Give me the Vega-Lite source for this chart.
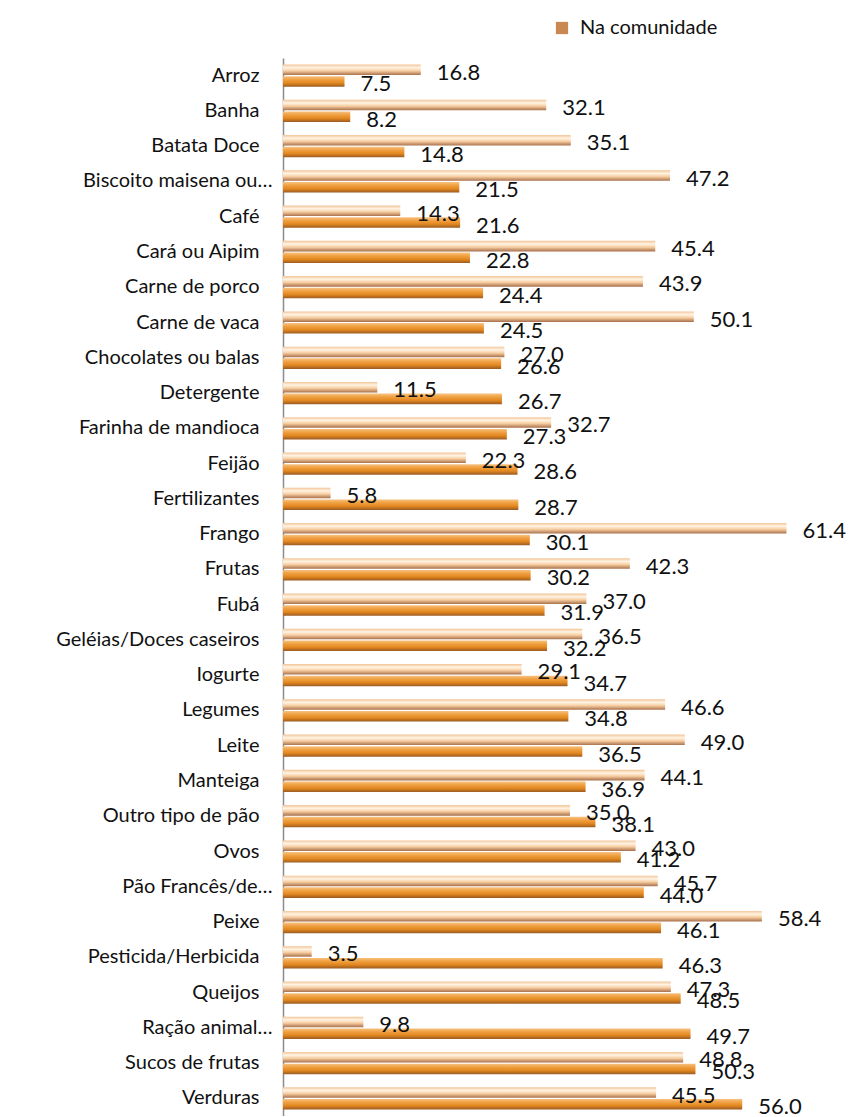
{
  "$schema": "https://vega.github.io/schema/vega-lite/v6.json",
  "autosize": {"type": "none"},
  "padding": {"left": 283, "top": 58, "right": 34, "bottom": 0},
  "width": 533,
  "height": 1058,
  "background": "white",
  "config": {"view": {"stroke": null}, "font": "Lato"},
  "data": {"values": [
    {"cat": "Arroz", "serie": "Fora da comunidade", "v": 16.8}, {"cat": "Arroz", "serie": "Na comunidade", "v": 7.5},
    {"cat": "Banha", "serie": "Fora da comunidade", "v": 32.1}, {"cat": "Banha", "serie": "Na comunidade", "v": 8.2},
    {"cat": "Batata Doce", "serie": "Fora da comunidade", "v": 35.1}, {"cat": "Batata Doce", "serie": "Na comunidade", "v": 14.8},
    {"cat": "Biscoito maisena ou…", "serie": "Fora da comunidade", "v": 47.2}, {"cat": "Biscoito maisena ou…", "serie": "Na comunidade", "v": 21.5},
    {"cat": "Café", "serie": "Fora da comunidade", "v": 14.3}, {"cat": "Café", "serie": "Na comunidade", "v": 21.6},
    {"cat": "Cará ou Aipim", "serie": "Fora da comunidade", "v": 45.4}, {"cat": "Cará ou Aipim", "serie": "Na comunidade", "v": 22.8},
    {"cat": "Carne de porco", "serie": "Fora da comunidade", "v": 43.9}, {"cat": "Carne de porco", "serie": "Na comunidade", "v": 24.4},
    {"cat": "Carne de vaca", "serie": "Fora da comunidade", "v": 50.1}, {"cat": "Carne de vaca", "serie": "Na comunidade", "v": 24.5},
    {"cat": "Chocolates ou balas", "serie": "Fora da comunidade", "v": 27.0}, {"cat": "Chocolates ou balas", "serie": "Na comunidade", "v": 26.6},
    {"cat": "Detergente", "serie": "Fora da comunidade", "v": 11.5}, {"cat": "Detergente", "serie": "Na comunidade", "v": 26.7},
    {"cat": "Farinha de mandioca", "serie": "Fora da comunidade", "v": 32.7}, {"cat": "Farinha de mandioca", "serie": "Na comunidade", "v": 27.3},
    {"cat": "Feijão", "serie": "Fora da comunidade", "v": 22.3}, {"cat": "Feijão", "serie": "Na comunidade", "v": 28.6},
    {"cat": "Fertilizantes", "serie": "Fora da comunidade", "v": 5.8}, {"cat": "Fertilizantes", "serie": "Na comunidade", "v": 28.7},
    {"cat": "Frango", "serie": "Fora da comunidade", "v": 61.4}, {"cat": "Frango", "serie": "Na comunidade", "v": 30.1},
    {"cat": "Frutas", "serie": "Fora da comunidade", "v": 42.3}, {"cat": "Frutas", "serie": "Na comunidade", "v": 30.2},
    {"cat": "Fubá", "serie": "Fora da comunidade", "v": 37.0}, {"cat": "Fubá", "serie": "Na comunidade", "v": 31.9},
    {"cat": "Geléias/Doces caseiros", "serie": "Fora da comunidade", "v": 36.5}, {"cat": "Geléias/Doces caseiros", "serie": "Na comunidade", "v": 32.2},
    {"cat": "Iogurte", "serie": "Fora da comunidade", "v": 29.1}, {"cat": "Iogurte", "serie": "Na comunidade", "v": 34.7},
    {"cat": "Legumes", "serie": "Fora da comunidade", "v": 46.6}, {"cat": "Legumes", "serie": "Na comunidade", "v": 34.8},
    {"cat": "Leite", "serie": "Fora da comunidade", "v": 49.0}, {"cat": "Leite", "serie": "Na comunidade", "v": 36.5},
    {"cat": "Manteiga", "serie": "Fora da comunidade", "v": 44.1}, {"cat": "Manteiga", "serie": "Na comunidade", "v": 36.9},
    {"cat": "Outro tipo de pão", "serie": "Fora da comunidade", "v": 35.0}, {"cat": "Outro tipo de pão", "serie": "Na comunidade", "v": 38.1},
    {"cat": "Ovos", "serie": "Fora da comunidade", "v": 43.0}, {"cat": "Ovos", "serie": "Na comunidade", "v": 41.2},
    {"cat": "Pão Francês/de…", "serie": "Fora da comunidade", "v": 45.7}, {"cat": "Pão Francês/de…", "serie": "Na comunidade", "v": 44.0},
    {"cat": "Peixe", "serie": "Fora da comunidade", "v": 58.4}, {"cat": "Peixe", "serie": "Na comunidade", "v": 46.1},
    {"cat": "Pesticida/Herbicida", "serie": "Fora da comunidade", "v": 3.5}, {"cat": "Pesticida/Herbicida", "serie": "Na comunidade", "v": 46.3},
    {"cat": "Queijos", "serie": "Fora da comunidade", "v": 47.3}, {"cat": "Queijos", "serie": "Na comunidade", "v": 48.5},
    {"cat": "Ração animal…", "serie": "Fora da comunidade", "v": 9.8}, {"cat": "Ração animal…", "serie": "Na comunidade", "v": 49.7},
    {"cat": "Sucos de frutas", "serie": "Fora da comunidade", "v": 48.8}, {"cat": "Sucos de frutas", "serie": "Na comunidade", "v": 50.3},
    {"cat": "Verduras", "serie": "Fora da comunidade", "v": 45.5}, {"cat": "Verduras", "serie": "Na comunidade", "v": 56.0}
  ]},
  "encoding": {
    "y": {"field": "cat", "type": "nominal", "sort": null,
      "scale": {"paddingInner": 0.37, "paddingOuter": 0.185},
      "axis": {"title": null, "ticks": false, "labelFontSize": 20, "labelFont": "Lato", "labelColor": "#111", "labelLimit": 400,
        "labelPadding": {"condition": {"test": "indexof(datum.label, '…') >= 0", "value": 11}, "value": 24},
        "domainColor": "#8c8c8c", "domainWidth": 1.5}},
    "yOffset": {"field": "serie", "type": "nominal", "scale": {"domain": ["Fora da comunidade", "Na comunidade"], "paddingInner": 0.1}},
    "x": {"field": "v", "type": "quantitative", "scale": {"domain": [0, 65], "nice": false}, "axis": null}
  },
  "layer": [
    {
      "transform": [{"filter": "datum.serie == 'Fora da comunidade'"}],
      "mark": {"type": "bar", "color": {"gradient": "linear", "x1": 0, "y1": 0, "x2": 0, "y2": 1,
        "stops": [{"offset": 0, "color": "#F2C498"}, {"offset": 0.3, "color": "#FFF4E4"}, {"offset": 0.6, "color": "#F7CDA0"}, {"offset": 1, "color": "#A8704C"}]}}
    },
    {
      "transform": [{"filter": "datum.serie == 'Na comunidade'"}],
      "mark": {"type": "bar", "color": {"gradient": "linear", "x1": 0, "y1": 0, "x2": 0, "y2": 1,
        "stops": [{"offset": 0, "color": "#F7C282"}, {"offset": 0.3, "color": "#F0A244"}, {"offset": 0.65, "color": "#E2871F"}, {"offset": 1, "color": "#9A5B22"}]}}
    },
    {
      "mark": {"type": "text", "align": "left", "baseline": "middle", "dx": 16, "dy": 3, "fontSize": 22, "font": "Lato", "color": "#111"},
      "encoding": {"text": {"field": "v", "type": "quantitative", "format": ".1f"}}
    },
    {
      "transform": [{"filter": "datum.serie == 'Na comunidade'"}],
      "mark": {"type": "square", "opacity": 0, "size": 1},
      "encoding": {
        "fill": {"field": "serie", "type": "nominal", "scale": {"domain": ["Na comunidade"], "range": ["#C98752"]},
          "legend": {"title": null, "orient": "none", "legendX": 269, "legendY": -40, "symbolType": "square", "symbolSize": 150, "symbolOpacity": 1, "symbolStrokeWidth": 0, "labelFontSize": 20, "labelFont": "Lato", "labelColor": "#111", "labelOffset": 8}}
      }
    }
  ]
}
